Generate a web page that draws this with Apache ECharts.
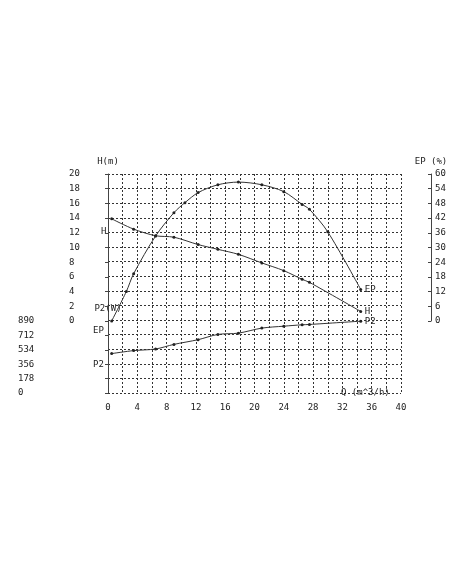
<!DOCTYPE html>
<html>
<head>
<meta charset="utf-8">
<script src="https://cdn.jsdelivr.net/npm/echarts@6/dist/echarts.min.js"></script>
<style>
body { margin: 0; background: #fff; }
#chart { width: 452px; height: 584px; }
</style>
</head>
<body>
<div id="chart"></div>
<script>
// flow Q (m^3/h) at measured points
const q = [0.5, 3.5, 6.5, 9, 12.3, 15, 17.8, 21, 24, 26.5, 27.5, 34.5];
const head = [13.9, 12.5, 11.6, 11.4, 10.4, 9.75, 9.07, 7.9, 6.85, 5.67, 5.26, 1.3];
const qEp = [0.5, 2.5, 3.5, 6.5, 9, 10.5, 12.3, 15, 17.8, 21, 24, 26.5, 27.5, 30, 34.5];
const eff = [0, 12, 19.3, 34.7, 44.2, 48.3, 52.4, 55.6, 56.7, 55.6, 52.8, 47.6, 45.6, 36.4, 12.9];
const power = [487, 524, 544, 601, 659, 724, 740, 802, 826, 843, 847, 888];
const p2Ticks = [0, 178, 356, 534, 712, 890];

const font = 'DejaVu Sans Mono';
const txt = { color: '#222', fontFamily: font, fontSize: 9 };
const zip = (a, b) => a.map((v, i) => [v, b[i]]);

const chart = echarts.init(document.getElementById('chart'));
const dash = { lineStyle: { type: [2, 2], color: '#333', width: 1 } };
const hiddenX = (i) => ({ gridIndex: i, type: 'value', min: 0, max: 40, show: false });
const axisLine = { show: true, lineStyle: { color: '#444' } };

chart.setOption({
    animation: false,
    grid: [
        { left: 108, right: 51, top: 174, height: 219 },
        { left: 108, right: 51, top: 174, height: 147 },
        { left: 108, right: 51, top: 321, height: 72 }
    ],
    xAxis: [
        {
            gridIndex: 0, type: 'value', min: 0, max: 40, interval: 2,
            axisLine: { show: false }, axisTick: { show: false },
            splitLine: Object.assign({ show: true }, dash),
            axisLabel: Object.assign({ margin: 10, formatter: v => v % 4 === 0 ? v : '' }, txt),
            name: 'Q (m^3/h)', nameLocation: 'end', nameGap: 0,
            nameTextStyle: Object.assign({ padding: [48, 0, 0, -60] }, txt)
        },
        hiddenX(1), hiddenX(2)
    ],
    yAxis: [
        {
            gridIndex: 0, type: 'value', min: 0, max: 15, interval: 1,
            axisLine: { show: false }, axisTick: { show: false }, axisLabel: { show: false },
            splitLine: Object.assign({ show: true }, dash)
        },
        {
            gridIndex: 1, type: 'value', min: 0, max: 20, interval: 2, position: 'left', offset: 43,
            axisLine: axisLine, axisTick: { show: true, length: 3 }, splitLine: { show: false },
            axisLabel: Object.assign({ inside: true, margin: 4 }, txt),
            name: 'H(m)', nameGap: 8, nameTextStyle: Object.assign({ align: 'center' }, txt)
        },
        {
            gridIndex: 1, type: 'value', min: 0, max: 60, interval: 6, position: 'right', offset: 30,
            axisLine: axisLine, axisTick: { show: true, length: 3, inside: true }, splitLine: { show: false },
            axisLabel: Object.assign({ margin: 4 }, txt),
            name: 'EP (%)', nameGap: 8, nameTextStyle: Object.assign({ align: 'center' }, txt)
        },
        {
            gridIndex: 2, type: 'value', min: 0, max: 890, interval: 178, position: 'left', offset: 94,
            axisLine: axisLine, axisTick: { show: true, length: 3 }, splitLine: { show: false },
            axisLabel: Object.assign({ inside: true, margin: 4 }, txt),
            name: 'P2(W)', nameGap: 8, nameTextStyle: Object.assign({ align: 'center' }, txt)
        }
    ],
    series: [
        { name: 'H', data: zip(q, head), xAxisIndex: 1, yAxisIndex: 1 },
        { name: 'EP', data: zip(qEp, eff), xAxisIndex: 1, yAxisIndex: 2 },
        { name: 'P2', data: zip(q, power), xAxisIndex: 2, yAxisIndex: 3 }
    ].map(s => Object.assign({
        type: 'line', smooth: 0.3, symbol: 'circle', symbolSize: 3,
        lineStyle: { color: '#333', width: 1 }, itemStyle: { color: '#222' },
        endLabel: Object.assign({ show: true, formatter: s.name, distance: 4 }, txt)
    }, s)),
    graphic: [
        { type: 'text', left: 101, top: 227, style: Object.assign({ text: 'H' }, txt, { fill: '#222' }) },
        { type: 'text', left: 93, top: 326, style: Object.assign({ text: 'EP' }, txt, { fill: '#222' }) },
        { type: 'text', left: 93, top: 360, style: Object.assign({ text: 'P2' }, txt, { fill: '#222' }) }
    ]
});
</script>
</body>
</html>
